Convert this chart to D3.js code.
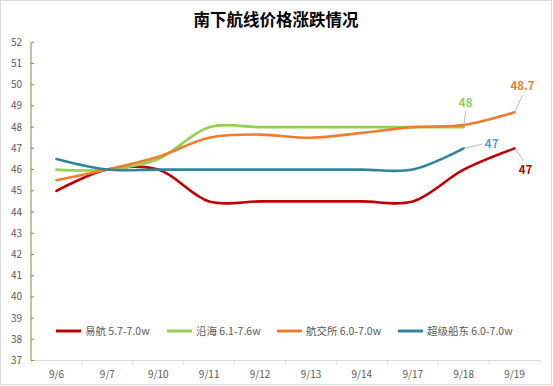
<!DOCTYPE html>
<html><head><meta charset="utf-8">
<script src="https://cdn.jsdelivr.net/npm/d3@7"></script>
<style>body{margin:0;background:#fff;font-family:"Microsoft YaHei","Noto Sans CJK SC",sans-serif}</style>
</head><body><svg id="c" width="553" height="386"></svg>
<script>
const categories = ["9/6","9/7","9/10","9/11","9/12","9/13","9/14","9/17","9/18","9/19"];
const yihang   = [45, 46, 46, 44.5, 44.5, 44.5, 44.5, 44.5, 46, 47];
const yanhai   = [46, 46, 46.5, 48, 48, 48, 48, 48, 48, null];
const hangjiao = [45.5, 46, 46.6, 47.5, 47.65, 47.5, 47.73, 48, 48.1, 48.7];
const chaoji   = [46.5, 46, 46, 46, 46, 46, 46, 46, 47, null];
const seriesNames = ["易航 5.7-7.0w","沿海 6.1-7.6w","航交所 6.0-7.0w","超级船东 6.0-7.0w"];
const seriesColors = ["#c00000","#92d050","#ed7d31","#31849b"];
const yTicks = d3.range(37, 53, 1);

const series = [yihang, yanhai, hangjiao, chaoji];
const svg = d3.select("#c");
const font = '"Microsoft YaHei","Noto Sans CJK SC",sans-serif';

svg.append("rect").attr("x",0.5).attr("y",0.5).attr("width",551).attr("height",384)
  .attr("fill","#fff").attr("stroke","#d9d9d9");

svg.append("text").attr("x",276).attr("y",25.5).attr("text-anchor","middle")
  .attr("font-size",16.5).attr("font-weight","bold").attr("fill","#000")
  .attr("font-family",font).text("南下航线价格涨跌情况");

const x = d3.scaleBand().domain(categories).range([31, 540]);
const y = d3.scaleLinear().domain([37, 52]).range([360.5, 42.3]);
const cx = c => x(c) + x.bandwidth()/2;

// x axis
const xa = svg.append("g").attr("transform","translate(0,360.5)");
xa.append("line").attr("x1",31).attr("x2",540).attr("stroke","#d9d9d9");
categories.forEach((c,i)=>{
  xa.append("line").attr("x1",x(c)+x.bandwidth()).attr("x2",x(c)+x.bandwidth()).attr("y1",0).attr("y2",4).attr("stroke","#d9d9d9");
  xa.append("text").attr("x",cx(c)).attr("y",17).attr("text-anchor","middle")
    .attr("font-size",10).attr("fill","#595959").attr("font-family",font).text(c);
});
xa.append("line").attr("x1",31).attr("x2",31).attr("y1",0).attr("y2",4).attr("stroke","#d9d9d9");

// y axis
const ya = svg.append("g");
ya.append("line").attr("x1",31).attr("x2",31).attr("y1",y(52)).attr("y2",y(37)).attr("stroke","#77933c").attr("stroke-width",1);
yTicks.forEach(t=>{
  ya.append("line").attr("x1",31).attr("x2",34).attr("y1",y(t)).attr("y2",y(t)).attr("stroke","#77933c");
  ya.append("text").attr("x",22).attr("y",y(t)+3.5).attr("text-anchor","end")
    .attr("font-size",10).attr("fill","#595959").attr("font-family",font).text(t);
});

// lines
const line = d3.line().defined(d=>d[1]!=null).x(d=>cx(d[0])).y(d=>y(d[1])).curve(d3.curveCatmullRom.alpha(0.5));
series.forEach((s,i)=>{
  const pts = categories.map((c,j)=>[c,s[j]]);
  svg.append("path").attr("d",line(pts)).attr("fill","none")
    .attr("stroke",seriesColors[i]).attr("stroke-width",2.6).attr("stroke-linecap","round");
});

// data labels with leader lines
const labels = [
  {s:1, c:"9/18", text:"48", color:"#92d050", dx:2, dy:-24, lx:2, ly:-16},
  {s:2, c:"9/19", text:"48.7", color:"#ed7d31", dx:8, dy:-26, lx:8, ly:-17},
  {s:3, c:"9/18", text:"47", color:"#5b9bd5", dx:28, dy:-4, lx:18, ly:-4},
  {s:0, c:"9/19", text:"47", color:"#c00000", dx:11, dy:22, lx:9, ly:12},
];
labels.forEach(L=>{
  const j = categories.indexOf(L.c);
  const px = cx(L.c), py = y(series[L.s][j]);
  svg.append("line").attr("x1",px).attr("y1",py).attr("x2",px+L.lx).attr("y2",py+L.ly)
    .attr("stroke","#a6a6a6").attr("stroke-width",0.8);
  svg.append("text").attr("x",px+L.dx).attr("y",py+L.dy+4).attr("text-anchor","middle")
    .attr("font-size",11.5).attr("font-weight","bold").attr("fill",L.color)
    .attr("font-family",font).text(L.text);
});

// legend
const legX = [56, 167, 277, 398];
seriesNames.forEach((n,i)=>{
  const g = svg.append("g");
  g.append("line").attr("x1",legX[i]).attr("x2",legX[i]+25).attr("y1",331).attr("y2",331)
    .attr("stroke",seriesColors[i]).attr("stroke-width",3);
  g.append("text").attr("x",legX[i]+29).attr("y",335).attr("font-size",10.5).attr("fill","#595959")
    .attr("font-family",font).text(n);
});
</script></body></html>
